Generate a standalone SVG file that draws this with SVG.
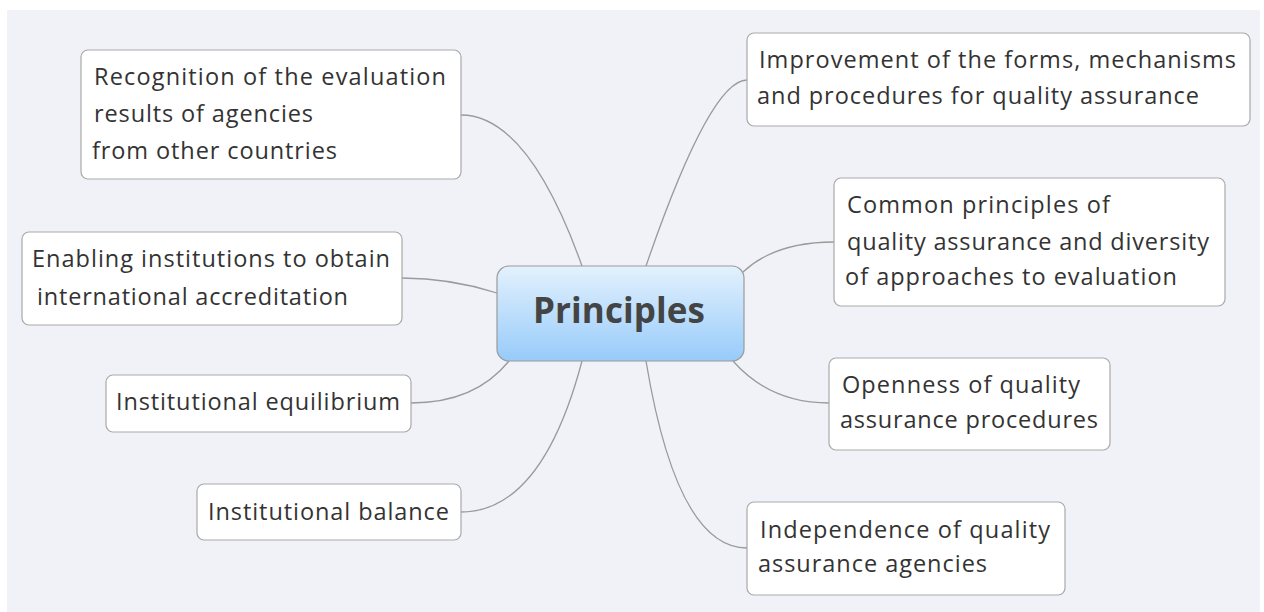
<svg xmlns="http://www.w3.org/2000/svg" width="1264" height="612" viewBox="0 0 1264 612">
<defs>
<linearGradient id="cg" x1="0" y1="0" x2="0" y2="1">
<stop offset="0" stop-color="#e3f1fd"/>
<stop offset="1" stop-color="#97cbfa"/>
</linearGradient>
<style>
.n{fill:#fff;stroke:#a9a9a9;stroke-width:1.2}
.t{font-family:"Open Sans","Noto Sans","DejaVu Sans",sans-serif;font-size:23.5px;fill:#333}
.c{fill:none;stroke:#9a9a9a;stroke-width:1.3}
.ct{font-family:"Open Sans","Noto Sans","DejaVu Sans",sans-serif;font-size:35px;font-weight:bold;fill:#444}
</style>
</defs>
<rect x="0" y="0" width="1264" height="612" fill="#fff"/>
<rect x="7" y="10" width="1253" height="602" fill="#f1f2f8"/>
<g id="connectors">
<path class="c" d="M461,115 Q528,115 582,266"/>
<path class="c" d="M646,266 Q710,80 747,80"/>
<path class="c" d="M743,272 Q775,242 834,242"/>
<path class="c" d="M402,278 Q450,278 497,293"/>
<path class="c" d="M411,403 Q475,403 509,361"/>
<path class="c" d="M461,512 Q542,512 582,361"/>
<path class="c" d="M646,361 Q677,548 747,548"/>
<path class="c" d="M733,361 Q770,403 829,403"/>
</g>
<g id="center">
<rect x="497" y="266" width="247" height="95" rx="12" fill="url(#cg)" stroke="#9a9a9a" stroke-width="1.2"/>
<text class="ct" x="533" y="323" textLength="172">Principles</text>
</g>
<g id="n-recognition">
<rect class="n" x="81" y="50" width="380" height="129" rx="7"/>
<text class="t" x="94" y="85" textLength="352">Recognition of the evaluation</text>
<text class="t" x="94" y="122" textLength="219">results of agencies</text>
<text class="t" x="92" y="159" textLength="245">from other countries</text>
</g>
<g id="n-enabling">
<rect class="n" x="22" y="232" width="380" height="93" rx="7"/>
<text class="t" x="32" y="267" textLength="358">Enabling institutions to obtain</text>
<text class="t" x="37" y="305" textLength="311">international accreditation</text>
</g>
<g id="n-equilibrium">
<rect class="n" x="106" y="375" width="305" height="57" rx="7"/>
<text class="t" x="116" y="410" textLength="284">Institutional equilibrium</text>
</g>
<g id="n-balance">
<rect class="n" x="197" y="484" width="264" height="56" rx="7"/>
<text class="t" x="208" y="520" textLength="241">Institutional balance</text>
</g>
<g id="n-improvement">
<rect class="n" x="747" y="33" width="503" height="93" rx="7"/>
<text class="t" x="759" y="68" textLength="477">Improvement of the forms, mechanisms</text>
<text class="t" x="757" y="104" textLength="442">and procedures for quality assurance</text>
</g>
<g id="n-common">
<rect class="n" x="834" y="178" width="391" height="128" rx="7"/>
<text class="t" x="847" y="213" textLength="263">Common principles of</text>
<text class="t" x="847" y="250" textLength="362">quality assurance and diversity</text>
<text class="t" x="845" y="285" textLength="332">of approaches to evaluation</text>
</g>
<g id="n-openness">
<rect class="n" x="829" y="358" width="281" height="92" rx="7"/>
<text class="t" x="842" y="393" textLength="238">Openness of quality</text>
<text class="t" x="840" y="428" textLength="258">assurance procedures</text>
</g>
<g id="n-independence">
<rect class="n" x="747" y="502" width="318" height="93" rx="7"/>
<text class="t" x="760" y="538" textLength="290">Independence of quality</text>
<text class="t" x="758" y="572" textLength="229">assurance agencies</text>
</g>
</svg>
